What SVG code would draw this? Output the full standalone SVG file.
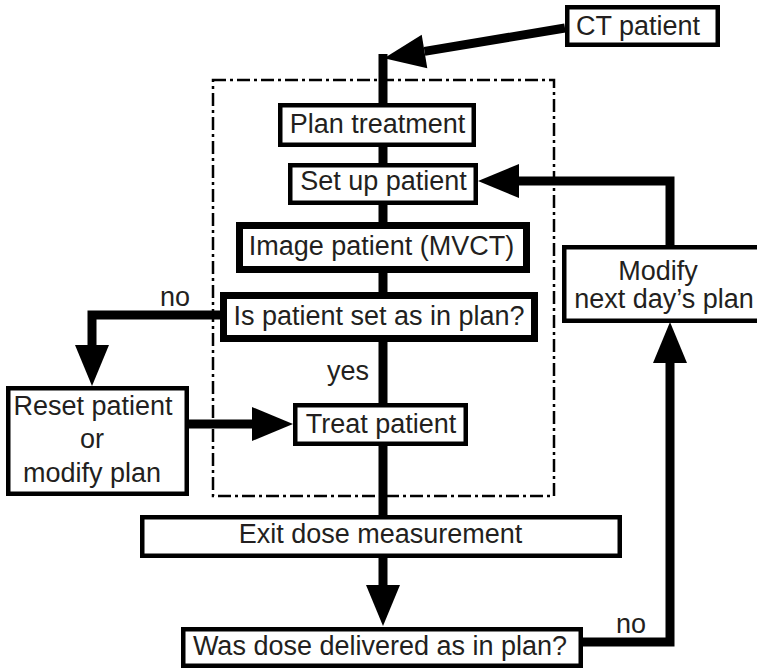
<svg xmlns="http://www.w3.org/2000/svg" width="757" height="669" viewBox="0 0 757 669">
<style>
.box{fill:#fff;stroke:#000;stroke-width:4.5}
.thick{fill:#fff;stroke:#000;stroke-width:7}
.t{font-family:"Liberation Sans",Arial,sans-serif;font-size:27px;fill:#231f20;text-anchor:middle}
.ts{font-family:"Liberation Sans",Arial,sans-serif;font-size:27px;fill:#231f20}
.c{fill:none;stroke:#000;stroke-width:9;stroke-linejoin:miter;stroke-linecap:butt}
.frame{fill:none;stroke:#000;stroke-width:2.5;stroke-dasharray:13 4 3 4}
</style>
<defs>
<marker id="ah" markerUnits="userSpaceOnUse" markerWidth="42" markerHeight="34" refX="0" refY="17" orient="auto" overflow="visible">
<path d="M0,0 L41,17 L0,34 z" fill="#000"/>
</marker>
</defs>
<rect class="frame" x="213" y="80" width="341" height="416"/>
<g id="connectors">
<path class="c" d="M565,28 L424.5,51.4" marker-end="url(#ah)"/>
<path class="c" d="M383,54 V517"/>
<path class="c" d="M383,558 V585" marker-end="url(#ah)"/>
<path class="c" d="M583,642 H670 V363" marker-end="url(#ah)"/>
<path class="c" d="M670,245 V181 H519" marker-end="url(#ah)"/>
<path class="c" d="M220,315 H92 V345" marker-end="url(#ah)"/>
<path class="c" d="M189,424 H252" marker-end="url(#ah)"/>
</g>
<g id="labels">
<text class="ts" x="160" y="306">no</text>
<text class="ts" x="327" y="380">yes</text>
<text class="ts" x="616" y="633">no</text>
</g>
<g id="ct"><rect class="box" x="567.25" y="7.25" width="150.5" height="37.5"/><text class="t" x="638" y="35">CT patient</text></g>
<g id="plan"><rect class="box" x="280.25" y="105.25" width="193.5" height="39.5"/><text class="t" x="377.5" y="133">Plan treatment</text></g>
<g id="setup"><rect class="box" x="290.25" y="165.25" width="185.5" height="37.5"/><text class="t" x="383.5" y="190">Set up patient</text></g>
<g id="image"><rect class="thick" x="239.5" y="225.5" width="287" height="44"/><text class="t" x="381.5" y="255">Image patient (MVCT)</text></g>
<g id="check"><rect class="thick" x="223.5" y="295.5" width="311" height="43"/><text class="t" x="379" y="325">Is patient set as in plan?</text></g>
<g id="treat"><rect class="box" x="295.25" y="405.25" width="170.5" height="38.5"/><text class="t" x="381" y="433">Treat patient</text></g>
<g id="reset"><rect class="box" x="8.25" y="388.25" width="178.5" height="105.5"/><text class="t" x="93" y="415">Reset patient</text><text class="t" x="92" y="448">or</text><text class="t" x="92" y="482">modify plan</text></g>
<g id="modify"><rect class="box" x="564.25" y="247.25" width="200" height="73.5"/><text class="t" x="658" y="280">Modify</text><text class="t" x="664" y="308">next day’s plan</text></g>
<g id="exit"><rect class="box" x="142.25" y="517.25" width="477.5" height="38.5"/><text class="t" x="380.5" y="543">Exit dose measurement</text></g>
<g id="was"><rect class="box" x="183.25" y="629.25" width="397.5" height="36.5"/><text class="t" x="380" y="655">Was dose delivered as in plan?</text></g>
</svg>
